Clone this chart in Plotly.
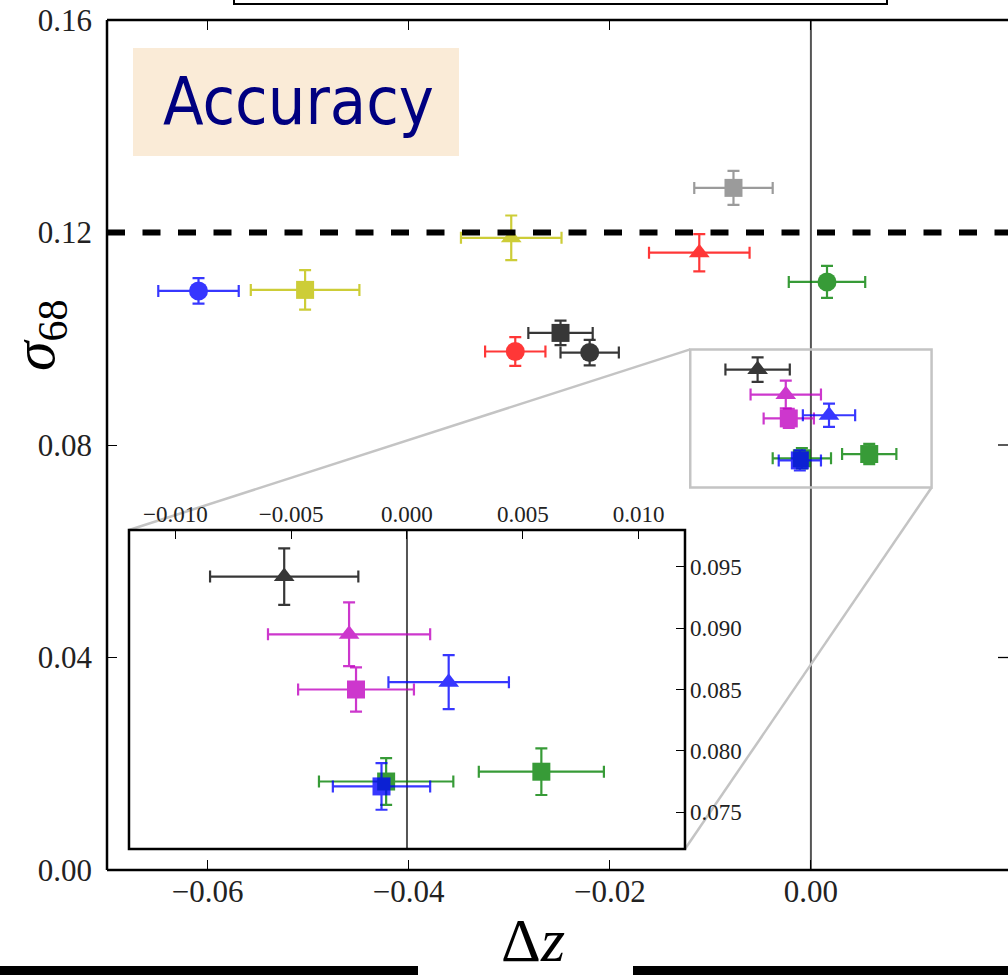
import plotly.graph_objects as go

# ---------------- data ----------------
series_names = ["blue circle", "yellow square", "yellow triangle", "grey square",
                "red triangle", "green circle", "red circle", "black square",
                "black circle", "black triangle", "magenta triangle", "magenta square",
                "blue triangle", "green square a", "green square b", "blue square"]
dz_vals = [-0.0609, -0.0503, -0.0298, -0.0077, -0.0111, 0.0016, -0.0294, -0.0249,
           -0.0220, -0.0053, -0.0025, -0.0022, 0.0018, 0.0058, -0.0009, -0.0011]
sigma_vals = [0.1090, 0.1092, 0.1190, 0.1284, 0.1162, 0.1107, 0.0976, 0.1011,
              0.0974, 0.0942, 0.0895, 0.0850, 0.0856, 0.0783, 0.0775, 0.0771]
dz_err = [0.0040, 0.0054, 0.0050, 0.0039, 0.0050, 0.0038, 0.0030, 0.0032,
          0.0029, 0.0032, 0.0035, 0.0025, 0.0026, 0.0027, 0.0029, 0.0021]
sigma_err = [0.0024, 0.0037, 0.0042, 0.0032, 0.0035, 0.0030, 0.0027, 0.0023,
             0.0024, 0.0023, 0.0026, 0.0018, 0.0022, 0.0019, 0.0019, 0.0019]

main_xticks = [-0.06, -0.04, -0.02, 0.00]
main_xtext = ["−0.06", "−0.04", "−0.02", "0.00"]
main_yticks = [0.00, 0.04, 0.08, 0.12, 0.16]
main_ytext = ["0.00", "0.04", "0.08", "0.12", "0.16"]
inset_xticks = [-0.010, -0.005, 0.000, 0.005, 0.010]
inset_xtext = ["−0.010", "−0.005", "0.000", "0.005", "0.010"]
inset_yticks = [0.075, 0.080, 0.085, 0.090, 0.095]
inset_ytext = ["0.075", "0.080", "0.085", "0.090", "0.095"]
threshold = 0.12
zoom_x = [-0.012, 0.012]
zoom_y = [0.072, 0.098]

# ---------------- styles ----------------
colors = ["#0000ff", "#bfbf00", "#bfbf00", "#808080", "#ff0000", "#008000", "#ff0000",
          "#000000", "#000000", "#000000", "#bf00bf", "#bf00bf", "#0000ff", "#008000",
          "#008000", "#0000ff"]
symbols = ["circle", "square", "triangle-up", "square", "triangle-up", "circle", "circle",
           "square", "circle", "triangle-up", "triangle-up", "square", "triangle-up",
           "square", "square", "square"]
sizes = {"circle": 19, "square": 18, "triangle-up": 18}

W, H = 1008, 975
ML, MR, MT, MB = 107, 0, 20, 105
main_xr = [-0.0700, 0.0196]
main_yr = [0.0, 0.16]

fig = go.Figure()
for xa, ya in [("x", "y"), ("x2", "y2")]:
    for i in range(len(dz_vals)):
        fig.add_trace(go.Scatter(
            x=[dz_vals[i]], y=[sigma_vals[i]], mode="markers", name=series_names[i],
            xaxis=xa, yaxis=ya, showlegend=False, opacity=0.78,
            marker=dict(color=colors[i], symbol=symbols[i], size=sizes[symbols[i]],
                        line=dict(width=0)),
            error_x=dict(type="data", array=[dz_err[i]], color=colors[i], thickness=2.2, width=6),
            error_y=dict(type="data", array=[sigma_err[i]], color=colors[i], thickness=2.2, width=6),
        ))
# invisible trace so the mirrored top tick axis is drawn
fig.add_trace(go.Scatter(x=[main_xr[0]], y=[main_yr[0]], xaxis="x3", yaxis="y", mode="markers",
                         marker=dict(opacity=0), showlegend=False, hoverinfo="skip"))

serif = "Liberation Serif, Times New Roman, serif"
axis_common = dict(showgrid=False, zeroline=False, ticks="inside", tickcolor="black",
                   automargin=False, showline=False, mirror=False)

fig.update_layout(
    width=W, height=H, margin=dict(l=ML, r=MR, t=MT, b=MB),
    paper_bgcolor="white", plot_bgcolor="white",
    font=dict(family=serif, color="black"),
    xaxis=dict(domain=[0, 1], range=main_xr, tickvals=main_xticks, ticktext=main_xtext,
               ticklen=10, tickwidth=1.3, tickfont=dict(family=serif, size=31, color="#222"),
               ticklabelstandoff=0, **axis_common),
    yaxis=dict(domain=[0, 1], range=main_yr, tickvals=main_yticks, ticktext=main_ytext,
               ticklen=10, tickwidth=1.3, tickfont=dict(family=serif, size=31, color="#222"),
               ticklabelstandoff=14, **axis_common),
    xaxis3=dict(overlaying="x", side="top", anchor="y", range=main_xr, tickvals=main_xticks,
                showticklabels=False, ticklen=10, tickwidth=1.3, **axis_common),
    xaxis2=dict(domain=[0.0244, 0.6415], range=zoom_x, anchor="y2", side="top",
                tickvals=inset_xticks, ticktext=inset_xtext, ticklen=9, tickwidth=1.3,
                tickfont=dict(family=serif, size=23, color="#222"),
                ticklabelstandoff=2, **axis_common),
    yaxis2=dict(domain=[0.0247, 0.400], range=zoom_y, anchor="x2", side="right",
                tickvals=inset_yticks, ticktext=inset_ytext, ticklen=9, tickwidth=1.3,
                tickfont=dict(family=serif, size=23, color="#222"),
                ticklabelstandoff=4, **axis_common),
)

def px_(x):
    return (x - main_xr[0]) / (main_xr[1] - main_xr[0])
def py_(y):
    return (y - main_yr[0]) / (main_yr[1] - main_yr[0])
def ppx(p):
    return (p - ML) / (W - ML - MR)
def ppy(p):
    return (H - MB - p) / (H - MT - MB)

ix0, ix1 = 0.0244, 0.6415
iy0, iy1 = 0.0247, 0.400

spine = dict(color="black", width=2.5)
shapes = [
    dict(type="line", xref="x", yref="paper", x0=0, x1=0, y0=0, y1=1,
         line=dict(color="#555", width=2), layer="below"),
    dict(type="line", xref="x2", yref="y2", x0=0, x1=0, y0=zoom_y[0], y1=zoom_y[1],
         line=dict(color="#555", width=2), layer="below"),
    dict(type="rect", xref="x", yref="y", x0=zoom_x[0], x1=zoom_x[1], y0=zoom_y[0], y1=zoom_y[1],
         line=dict(color="#c4c4c4", width=2.5), layer="below"),
    dict(type="line", xref="paper", yref="paper", x0=ix0, y0=iy1, x1=px_(zoom_x[0]), y1=py_(zoom_y[1]),
         line=dict(color="#c4c4c4", width=2.5), layer="below"),
    dict(type="line", xref="paper", yref="paper", x0=ix1, y0=iy0, x1=px_(zoom_x[1]), y1=py_(zoom_y[0]),
         line=dict(color="#c4c4c4", width=2.5), layer="below"),
    dict(type="rect", xref="paper", yref="paper", x0=ppx(133), x1=ppx(459),
         y0=ppy(156), y1=ppy(48), fillcolor="#faebd7", line=dict(width=0), layer="below"),
    # white strip at the cropped right edge
    dict(type="rect", xref="paper", yref="paper", x0=ppx(999), x1=1.01, y0=0.002, y1=0.998,
         fillcolor="white", line=dict(width=0)),
    dict(type="line", xref="paper", yref="y", x0=0, x1=1, y0=threshold, y1=threshold,
         line=dict(color="black", width=6, dash="18px,17.5px")),
    # main spines (left, bottom, top)
    dict(type="line", xref="paper", yref="paper", x0=0, x1=0, y0=0, y1=1, line=spine),
    dict(type="line", xref="paper", yref="paper", x0=0, x1=1.01, y0=0, y1=0, line=spine),
    dict(type="line", xref="paper", yref="paper", x0=0, x1=1.01, y0=1, y1=1, line=spine),
    # inset frame
    dict(type="rect", xref="paper", yref="paper", x0=ix0, x1=ix1, y0=iy0, y1=iy1, line=spine),
    # legend box fragment at the top
    dict(type="rect", xref="paper", yref="paper", x0=ppx(234), x1=ppx(887),
         y0=ppy(4), y1=ppy(-30), line=dict(color="black", width=2), fillcolor="white"),
    # black bars at the bottom
    dict(type="rect", xref="paper", yref="paper", x0=ppx(0), x1=ppx(418),
         y0=ppy(975), y1=ppy(966), fillcolor="black", line=dict(width=0)),
    dict(type="rect", xref="paper", yref="paper", x0=ppx(633), x1=1,
         y0=ppy(975), y1=ppy(966), fillcolor="black", line=dict(width=0)),
]
# right-hand inward tick marks at the main y ticks
for t in main_yticks[1:-1]:
    shapes.append(dict(type="line", xref="paper", yref="y", x0=ppx(998), x1=1.0, y0=t, y1=t,
                       line=dict(color="black", width=1.3)))
fig.update_layout(shapes=shapes)

annotations = [
    dict(text="Accuracy", xref="paper", yref="paper", x=ppx(298), y=ppy(101),
         xanchor="center", yanchor="middle", showarrow=False,
         font=dict(family="DejaVu Sans Condensed, DejaVu Sans, sans-serif", size=66, color="#000080")),
    dict(text="<i>σ</i><sub>68</sub>", xref="paper", yref="paper", x=ppx(38), y=ppy(335),
         xanchor="center", yanchor="middle", textangle=-90, showarrow=False,
         font=dict(family=serif, size=60, color="black")),
    dict(text="Δ<i>z</i>", xref="paper", yref="paper", x=ppx(533), y=ppy(940),
         xanchor="center", yanchor="middle", showarrow=False,
         font=dict(family=serif, size=62, color="black")),
]
fig.update_layout(annotations=annotations)

fig.write_html("out.html")
